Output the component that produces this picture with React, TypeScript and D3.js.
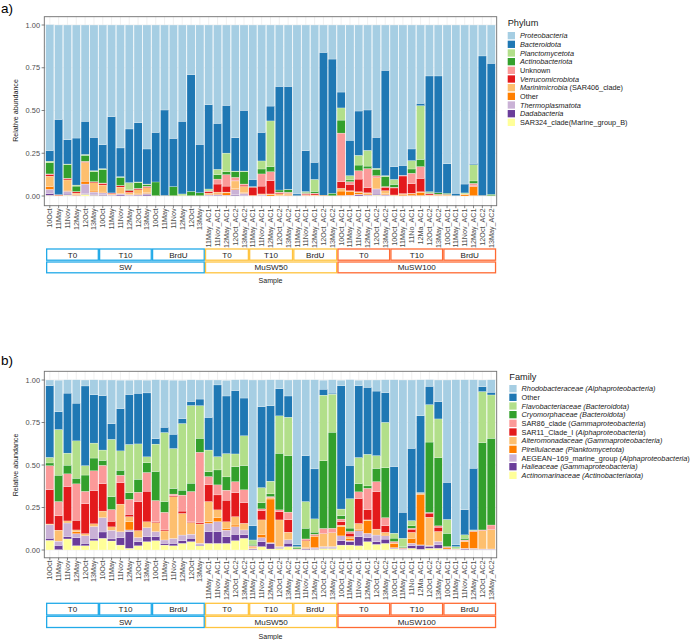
import React from 'react';
import * as d3 from 'd3';

// ---------- categories ----------
const sampleLabels = [
  '10Oct','11May','11Nov','12May','12Oct','13May',
  '10Oct','11May','11Nov','12May','12Oct','13May',
  '10Oct','11May','11Nov','12May','12Oct','13May',
  '11May_AC1','11Nov_AC1','12May_AC1','12Oct_AC2','13May_AC2',
  '11May_AC1','11Nov_AC1','12May_AC1','12Oct_AC2','13May_AC2',
  '11May_AC1','11Nov_AC1','12May_AC1','12Oct_AC2','13May_AC2',
  '10Oct_AC1','11May_AC1','11Nov_AC1','12May_AC1','12Oct_AC2','13May_AC2',
  '10Oct_AC1','11May_AC1','11No_AC1','12Ma_AC1','12Oct_AC2','13May_AC2',
  '10Oct_AC1','11May_AC1','11Nov_AC1','12May_AC1','12Oct_AC2','13May_AC2',
];
const treatmentNames = ['T0','T10','BrdU','T0','T10','BrdU','T0','T10','BrdU'];
const treatmentSizes = [6,6,6,5,5,5,6,6,6];
const mediumNames = ['SW','MuSW50','MuSW100'];
const mediumSizes = [18,15,18];
const mediumColors = ['#22AAE8','#FFC43F','#FF6A33'];
const yTicks = [0,25,50,75,100];

// ---------- Phylum (percent) ----------
const proteobacteria = [73.6,55.2,67.1,66.1,56.3,65.7, 70.0,53.6,71.9,60.8,57.1,72.5, 62.8,49.7,66.3,56.3,29.0,69.8, 46.6,57.5,47.0,65.9,49.9, 90.3,62.8,47.4,35.9,35.9, 98.8,73.6,80.3,16.0,19.9, 39.2,67.4,50.3,49.7,65.7,26.5, 82.8,82.1,72.5,45.8,29.8,29.8, 81.1,98.4,93.0,80.9,18.1,22.4];
const bacteroidota = [6.2,44.0,14.2,27.5,19.4,19.5, 14.0,44.6,16.8,31.4,34.7,20.5, 29.0,50.0,28.2,42.5,68.3,28.3, 49.3,26.9,27.9,19.5,35.5, 4.2,16.7,8.7,60.6,60.2, 1.0,23.8,10.0,83.5,78.5, 9.3,20.7,25.9,23.6,18.1,61.6, 7.5,5.8,6.8,1.4,67.7,68.3, 17.3,1.4,5.2,0.8,81.6,76.6];
const planctomycetota = [1.0,0,0.3,0.6,0.5,0.6, 0.6,0,0.4,4.0,0.4,0.3, 0,0,0,1.0,0,0, 0.8,3.1,10.9,0.4,0.4, 0.3,4.7,26.7,0,0.3, 0,0.4,7.0,0,0, 7.1,2.5,5.7,9.2,0.6,0.6, 2.9,0,4.9,31.4,0.3,0, 0,0,0.6,9.5,0,0];
const actinobacteriota = [6.5,0,8.0,3.2,3.5,5.8, 7.8,0,4.7,0.5,3.3,1.0, 8.0,0,5.3,0,2.5,1.7, 0.3,2.6,1.7,3.3,7.2, 0,2.9,3.0,1.2,1.4, 0,0.6,1.0,0,1.4, 7.6,1.0,3.3,1.5,3.7,5.8, 1.7,0,2.5,4.2,0.6,0.8, 0.6,0,0,1.4,0,0.8];
const unknownPhylum = [0.3,0,0.2,0.2,0.2,0.2, 0.3,0,0.2,0,0.2,0.2, 0,0,0,0,0,0, 0.5,2.9,6.7,1.8,0.6, 0,7.1,5.2,0.4,0.3, 0,0.5,0.3,0,0, 28.4,1.6,4.9,11.1,1.0,0.4, 0.4,0.4,6.1,6.9,0.3,0, 0,0,0,1.4,0,0];
const verrucomicrobiota = [1.0,0.4,0.8,0.7,0.4,0.5, 0.9,0.4,0.8,1.2,0.7,0.6, 0,0,0,0,0,0, 0.8,4.7,3.5,0.3,0.8, 4.8,4.6,7.8,0.6,0.3, 0,0.6,0.8,0,0, 3.9,3.7,7.4,3.0,0.3,2.0, 4.1,10.3,5.6,7.8,0.7,0.3, 0.2,0,0,0.3,0,0];
const marinimicrobia = [6.0,0,6.0,1.0,11.0,4.8, 4.1,0.4,3.6,1.2,2.4,3.0, 0,0,0,0,0,0, 0.6,0.6,0.5,4.5,3.6, 0,0.3,0.4,1.0,1.0, 0,0.3,0.3,0,0, 1.6,0.4,0.5,0.6,6.0,1.8, 0.3,0.4,0.4,0.4,0.4,0.4, 0.4,0,0.4,0.3,0,0];
const otherPhylum = [1.7,0.4,0.6,0.3,1.7,0.6, 0.5,0.4,0.3,0.3,0.3,0.4, 0.2,0.3,0.2,0.2,0.2,0.2, 0.4,0.8,1.3,0.6,0.4, 0.4,0.3,0.8,0.3,0.3, 0.2,0.2,0.3,0.5,0.2, 2.6,2.2,1.0,0.6,0.5,0.5, 0.2,0.8,0.9,1.8,0.2,0.4, 0.4,0.2,0.8,5.2,0.3,0.2];
const thermoplasmatota = [2.5,0,1.7,0.2,5.7,1.4, 1.0,0.3,0.6,0.3,0.4,0.5, 0,0,0,0,0,0, 0.4,0.4,0.2,3.0,1.2, 0,0.3,0,0,0.3, 0,0,0,0,0, 0.2,0.3,0.4,0.4,3.0,0.4, 0,0.2,0.2,0.2,0,0, 0,0,0,0.2,0,0];
const dadabacteria = [1.0,0,0.6,0.2,0.3,0.5, 0.5,0.3,0.6,0.3,0.4,0.9, 0,0,0,0,0,0, 0.3,0.5,0.3,0.5,0.3, 0,0.3,0,0,0, 0,0,0,0,0, 0.1,0.2,0.6,0.3,0.6,0.4, 0.1,0,0.1,0.1,0,0, 0,0,0,0,0,0];
const sar324 = [0.4,0,0.5,0,1.0,0.4, 0.3,0,0.1,0,0.1,0.1, 0,0,0,0,0,0, 0,0,0,0.2,0.1, 0,0,0,0,0, 0,0,0,0,0, 0,0,0,0,0.5,0, 0,0,0,0,0,0, 0,0,0,0,0,0];

// ---------- Family (percent) ----------
const rhodobacteraceae = [3.3,18.6,7.8,13.7,3.5,8.8, 9.2,25.7,16.7,8.4,7.8,7.5, 34.7,27.8,31.8,22.5,12.7,11.2, 22.0,2.9,9.2,6.3,10.8, 85.7,15.7,15.3,5.3,9.4, 97.1,44.7,52.4,5.3,7.8, 3.3,50.4,3.3,4.3,6.5,7.5, 51.0,77.8,40.2,21.2,3.9,12.7, 60.2,97.1,76.5,52.0,3.9,7.3];
const otherFamily = [42.2,10.4,35.3,22.2,46.9,28.4, 32.0,9.2,24.9,29.4,29.8,37.6, 3.1,3.1,8.4,2.9,2.4,3.9, 19.2,42.2,33.9,37.3,22.2, 8.4,47.6,44.3,15.9,12.5, 1.0,26.9,29.4,3.5,0.6, 72.5,19.6,42.2,39.4,38.0,17.5, 39.2,15.3,42.5,45.1,10.8,10.2, 21.8,1.0,14.7,36.3,2.9,1.6];
const flavobacteriaceae = [3.3,26.9,7.1,22.0,5.5,8.8, 6.1,33.7,11.4,28.4,20.8,3.5, 16.1,40.6,23.5,39.2,45.7,19.2, 12.7,7.8,13.7,7.5,17.5, 2.5,8.8,7.5,22.0,22.5, 0.8,15.7,7.8,38.6,22.4, 3.9,17.3,15.3,18.6,7.5,26.7, 2.9,4.9,3.1,0.2,22.0,22.7, 8.2,1.0,2.0,0.2,30.0,25.5];
const cryomorphaceae = [1.6,15.5,5.1,3.3,9.6,7.5, 2.9,7.6,2.9,3.9,7.6,5.7, 17.1,6.3,3.3,2.9,4.9,8.2, 2.9,8.8,7.8,8.8,14.3, 0.8,3.7,1.6,33.3,33.3, 0.6,6.3,1.2,39.8,56.5, 2.0,2.0,4.9,1.4,7.8,29.4, 2.0,0.6,1.4,0.2,41.4,40.2, 7.8,0.4,1.0,0.2,51.4,51.0];
const sar86 = [14.1,8.4,7.5,21.4,7.3,11.6, 10.8,6.9,4.5,8.8,5.5,11.0, 12.4,10.4,1.0,9.4,17.6,41.4, 4.9,5.9,5.9,6.5,7.5, 0.4,1.0,0.4,1.0,4.5, 0.2,0.6,0.4,2.9,2.4, 1.6,1.0,3.9,12.7,5.9,4.7, 0.4,0.2,0.6,0.2,0.4,0.8, 0.2,0.2,0.2,0.2,0.2,2.5];
const sar11 = [20.2,8.4,20.2,5.7,17.6,19.6, 16.1,3.3,12.5,1.4,17.1,18.0, 0.6,0.6,0.6,1.4,0.6,0.8, 9.8,8.8,12.7,14.1,12.2, 0.4,5.5,0.2,4.9,7.3, 0,0.4,0.4,0.2,0.2, 2.0,2.0,14.7,5.9,22.0,3.9, 0.4,0.2,1.8,0.2,2.4,2.5, 0.2,0,0.2,0.2,0.2,0.2];
const alteromonadaceae = [0.4,6.5,1.2,1.0,1.2,1.6, 3.9,2.0,16.3,2.9,4.1,3.5, 5.3,5.3,24.5,12.7,6.9,11.4, 11.8,4.5,3.9,4.9,3.9, 0.8,8.8,0.8,15.7,4.5, 0.2,4.1,0.4,7.6,8.2, 1.0,1.0,3.5,0.4,3.5,1.6, 0.4,0.2,3.5,0.2,16.7,5.9, 0.2,0.2,0.6,0.2,10.8,11.4];
const pirellulaceae = [0,0,0,1.2,0,0, 0,0,0,4.9,0,0, 0,0,0,0,0,0, 1.0,2.4,1.0,1.0,0, 0.2,1.6,25.7,0,0, 0,0.4,6.7,0,0, 5.3,1.4,0.8,7.5,0,0.4, 2.4,0.2,2.9,29.8,0,0, 0.8,0,3.9,9.8,0,0];
const aegean169 = [8.0,2.5,8.0,2.4,4.5,6.9, 8.4,5.1,3.5,1.0,2.4,5.3, 2.9,2.0,2.9,3.3,2.4,1.0, 4.9,5.9,3.9,4.5,2.9, 0.2,2.4,0.6,0.6,2.0, 0.2,0.4,0.6,0.6,0.6, 2.9,0.6,3.5,2.5,3.9,2.0, 0.4,0.2,1.4,0.2,0.4,2.0, 0.2,0.2,0.4,0.4,0.2,0.2];
const halieaceae = [1.2,2.5,1.4,4.7,1.4,1.4, 3.7,1.2,4.3,9.8,2.4,2.9, 2.4,1.0,1.4,1.6,2.0,0.4, 6.9,6.9,3.9,3.7,2.0, 0.4,2.9,3.1,0.4,2.0, 0,0.4,0.4,0.4,0.4, 2.5,2.0,5.3,2.4,1.6,2.5, 0.4,0.2,1.6,2.4,1.2,2.0, 0.2,0,0.4,0.2,0.2,0.2];
const actinomarinaceae = [5.7,0.2,6.5,2.5,2.5,5.5, 6.9,5.3,2.9,1.0,2.5,4.9, 5.5,2.9,2.5,3.9,4.9,2.5, 3.9,3.9,3.9,5.5,6.9, 0.2,2.0,0.6,1.0,2.0, 0,0.2,0.4,1.0,1.0, 2.9,2.9,2.5,4.9,3.3,3.9, 0.6,0.2,1.0,0.4,1.0,1.0, 0.2,0,0.2,0.4,0.2,0.2];

const palette = ['#A6CEE3','#1F78B4','#B2DF8A','#33A02C','#FB9A99','#E31A1C','#FDBF6F','#FF7F00','#CAB2D6','#6A3D9A','#FFFF99'];

type Part = [string, boolean];
type Series = { values: number[]; label: Part[] };

const phylumSeries: Series[] = [
  { values: proteobacteria, label: [['Proteobacteria', true]] },
  { values: bacteroidota, label: [['Bacteroidota', true]] },
  { values: planctomycetota, label: [['Planctomycetota', true]] },
  { values: actinobacteriota, label: [['Actinobacteriota', true]] },
  { values: unknownPhylum, label: [['Unknown', false]] },
  { values: verrucomicrobiota, label: [['Verrucomicrobiota', true]] },
  { values: marinimicrobia, label: [['Marinimicrobia', true], [' (SAR406_clade)', false]] },
  { values: otherPhylum, label: [['Other', false]] },
  { values: thermoplasmatota, label: [['Thermoplasmatota', true]] },
  { values: dadabacteria, label: [['Dadabacteria', true]] },
  { values: sar324, label: [['SAR324_clade(Marine_group_B)', false]] },
];

const familySeries: Series[] = [
  { values: rhodobacteraceae, label: [['Rhodobacteraceae (Alphaproteobacteria)', true]] },
  { values: otherFamily, label: [['Other', false]] },
  { values: flavobacteriaceae, label: [['Flavobacteriaceae (Bacteroidota)', true]] },
  { values: cryomorphaceae, label: [['Cryomorphaceae (Bacteroidota)', true]] },
  { values: sar86, label: [['SAR86_clade (', false], ['Gammaproteobacteria', true], [')', false]] },
  { values: sar11, label: [['SAR11_Clade_I (', false], ['Alphaproteobacteria', true], [')', false]] },
  { values: alteromonadaceae, label: [['Alteromonadaceae (Gammaproteobacteria)', true]] },
  { values: pirellulaceae, label: [['Pirellulaceae (Planktomycetota)', true]] },
  { values: aegean169, label: [['AEGEAN\u2212169_marine_group  (', false], ['Alphaproteobacteria', true], [')', false]] },
  { values: halieaceae, label: [['Halieaceae (Gammaproteobacteria)', true]] },
  { values: actinomarinaceae, label: [['Actinomarinaceae (Actinobacteriaota)', true]] },
];

const FONT = '"Liberation Sans", Arial, Helvetica, sans-serif';
const plotLeft = 44.3;
const plotRight = 496.7;

type Cfg = {
  tag: string; tagY: number; frameTop: number; frameBottom: number; y0: number; y1: number;
  labelTop: number; strip1: [number, number]; strip2: [number, number]; sampleY: number;
  legendTitle: string; legendTitleY: number; legendX: number; legendKeyTop: number;
};

function Panel({ cfg, series }: { cfg: Cfg; series: Series[] }) {
  const n = sampleLabels.length;
  const x = d3.scaleBand<number>().domain(d3.range(n)).range([45.4, 495.6]).paddingInner(0.08).paddingOuter(0.04);
  const y = d3.scaleLinear().domain([0, 100]).range([cfg.y0, cfg.y1]);
  const bw = x.bandwidth();

  const rows = d3.range(n).map((i) => {
    const r: Record<string, number> = {};
    series.forEach((s, k) => { r['s' + k] = s.values[i]; });
    return r;
  });
  const keysBottomFirst = series.map((_, k) => 's' + k).reverse();
  const stacked = d3.stack<Record<string, number>>().keys(keysBottomFirst)(rows);

  const groupsFrom = (sizes: number[]) => {
    let start = 0;
    return sizes.map((s) => { const g = { start, end: start + s - 1 }; start += s; return g; });
  };
  const tGroups = groupsFrom(treatmentSizes);
  const mGroups = groupsFrom(mediumSizes);
  const mediumOfTreatment = tGroups.map((g) => mGroups.findIndex((m) => g.start >= m.start && g.end <= m.end));

  const gridMajor = [0, 25, 50, 75, 100];
  const gridMinor = [12.5, 37.5, 62.5, 87.5];

  const boxX = (g: { start: number; end: number }) => {
    const x1 = (x(g.start) as number) + 0.9;
    const x2 = (x(g.end) as number) + bw + 0.3;
    return [x1, x2];
  };

  return (
    <g fontFamily={FONT}>
      <text x={1} y={cfg.tagY} fontSize={13.5} fill="#000">{cfg.tag}</text>
      <rect x={plotLeft} y={cfg.frameTop} width={plotRight - plotLeft} height={cfg.frameBottom - cfg.frameTop} fill="#fff" />
      {gridMinor.map((t) => (
        <line key={'mi' + t} x1={plotLeft} x2={plotRight} y1={y(t)} y2={y(t)} stroke="#f0f0f0" strokeWidth={0.4} />
      ))}
      {gridMajor.map((t) => (
        <line key={'ma' + t} x1={plotLeft} x2={plotRight} y1={y(t)} y2={y(t)} stroke="#e6e6e6" strokeWidth={0.6} />
      ))}
      {d3.range(n).map((i) => (
        <line key={'vg' + i} x1={(x(i) as number) + bw / 2} x2={(x(i) as number) + bw / 2} y1={cfg.frameTop} y2={cfg.frameBottom} stroke="#e6e6e6" strokeWidth={0.6} />
      ))}
      {stacked.map((layer) => {
        const k = Number(layer.key.slice(1));
        return (
          <g key={layer.key} fill={palette[k]}>
            {layer.map((d, i) => {
              const h = y(d[0]) - y(d[1]);
              if (h <= 0) return null;
              return (
                <rect key={i} x={x(i)} y={y(d[1])} width={bw} height={h} stroke="#ffffff" strokeWidth={0.25} />
              );
            })}
          </g>
        );
      })}
      <rect x={plotLeft} y={cfg.frameTop} width={plotRight - plotLeft} height={cfg.frameBottom - cfg.frameTop} fill="none" stroke="#6e6e6e" strokeWidth={0.9} />
      {yTicks.map((t) => (
        <g key={'yt' + t}>
          <line x1={plotLeft - 2.7} x2={plotLeft} y1={y(t)} y2={y(t)} stroke="#333" strokeWidth={0.6} />
          <text x={plotLeft - 4.3} y={y(t)} dy="0.35em" textAnchor="end" fontSize={7.4} fill="#4d4d4d">
            {(t / 100).toFixed(2)}
          </text>
        </g>
      ))}
      <text transform={`translate(15.5,${(cfg.y0 + cfg.y1) / 2}) rotate(-90)`} textAnchor="middle" dy="0.35em" fontSize={7.1} fill="#1a1a1a">
        Relative abundance
      </text>
      {sampleLabels.map((lab, i) => {
        const cx = (x(i) as number) + bw / 2;
        return (
          <g key={'xl' + i}>
            <line x1={cx} x2={cx} y1={cfg.frameBottom} y2={cfg.frameBottom + 2.5} stroke="#333" strokeWidth={0.6} />
            <text transform={`translate(${cx},${cfg.labelTop}) rotate(-90)`} textAnchor="end" dy="0.35em" fontSize={7.2} fill="#4d4d4d">
              {lab}
            </text>
          </g>
        );
      })}
      {tGroups.map((g, gi) => {
        const [x1, x2] = boxX(g);
        const col = mediumColors[mediumOfTreatment[gi]];
        return (
          <g key={'tg' + gi}>
            <rect x={x1} y={cfg.strip1[0]} width={x2 - x1} height={cfg.strip1[1] - cfg.strip1[0]} fill="#fff" stroke={col} strokeWidth={1.3} />
            <text x={(x1 + x2) / 2} y={(cfg.strip1[0] + cfg.strip1[1]) / 2} dy="0.36em" textAnchor="middle" fontSize={8.1} fill="#1a1a1a">
              {treatmentNames[gi]}
            </text>
          </g>
        );
      })}
      {mGroups.map((g, gi) => {
        const [x1, x2] = boxX(g);
        return (
          <g key={'mg' + gi}>
            <rect x={x1} y={cfg.strip2[0]} width={x2 - x1} height={cfg.strip2[1] - cfg.strip2[0]} fill="#fff" stroke={mediumColors[gi]} strokeWidth={1.3} />
            <text x={(x1 + x2) / 2} y={(cfg.strip2[0] + cfg.strip2[1]) / 2} dy="0.36em" textAnchor="middle" fontSize={8.1} fill="#1a1a1a">
              {mediumNames[gi]}
            </text>
          </g>
        );
      })}
      <text x={(plotLeft + plotRight) / 2} y={cfg.sampleY} textAnchor="middle" fontSize={7.1} fill="#1a1a1a">Sample</text>
      <text x={cfg.legendX} y={cfg.legendTitleY} fontSize={9.2} fill="#1a1a1a">{cfg.legendTitle}</text>
      {series.map((s, k) => {
        const top = cfg.legendKeyTop + k * 8.67;
        return (
          <g key={'lg' + k}>
            <rect x={cfg.legendX} y={top} width={7.3} height={7.3} fill={palette[k]} />
            <text x={cfg.legendX + 12.3} y={top + 3.65} dy="0.35em" fontSize={7.3} fill="#1a1a1a">
              {s.label.map((p, j) => (
                <tspan key={j} fontStyle={p[1] ? 'italic' : 'normal'}>{p[0]}</tspan>
              ))}
            </text>
          </g>
        );
      })}
    </g>
  );
}

const cfgA: Cfg = {
  tag: 'a)', tagY: 12.5, frameTop: 16.7, frameBottom: 205.7, y0: 196, y1: 25,
  labelTop: 208.5, strip1: [249, 260.2], strip2: [262, 272.8], sampleY: 282.5,
  legendTitle: 'Phylum', legendTitleY: 26.2, legendX: 507.7, legendKeyTop: 32,
};
const cfgB: Cfg = {
  tag: 'b)', tagY: 365, frameTop: 371.3, frameBottom: 557.8, y0: 550, y1: 380,
  labelTop: 560.5, strip1: [603.3, 615], strip2: [616.3, 627.5], sampleY: 638.5,
  legendTitle: 'Family', legendTitleY: 379.5, legendX: 509.3, legendKeyTop: 385,
};

export default function App() {
  return (
    <svg width={694} height={640} viewBox="0 0 694 640" style={{ position: 'absolute', left: 0, top: 0, background: '#fff' }}>
      <rect x={0} y={0} width={694} height={640} fill="#fff" />
      <Panel cfg={cfgA} series={phylumSeries} />
      <Panel cfg={cfgB} series={familySeries} />
    </svg>
  );
}
